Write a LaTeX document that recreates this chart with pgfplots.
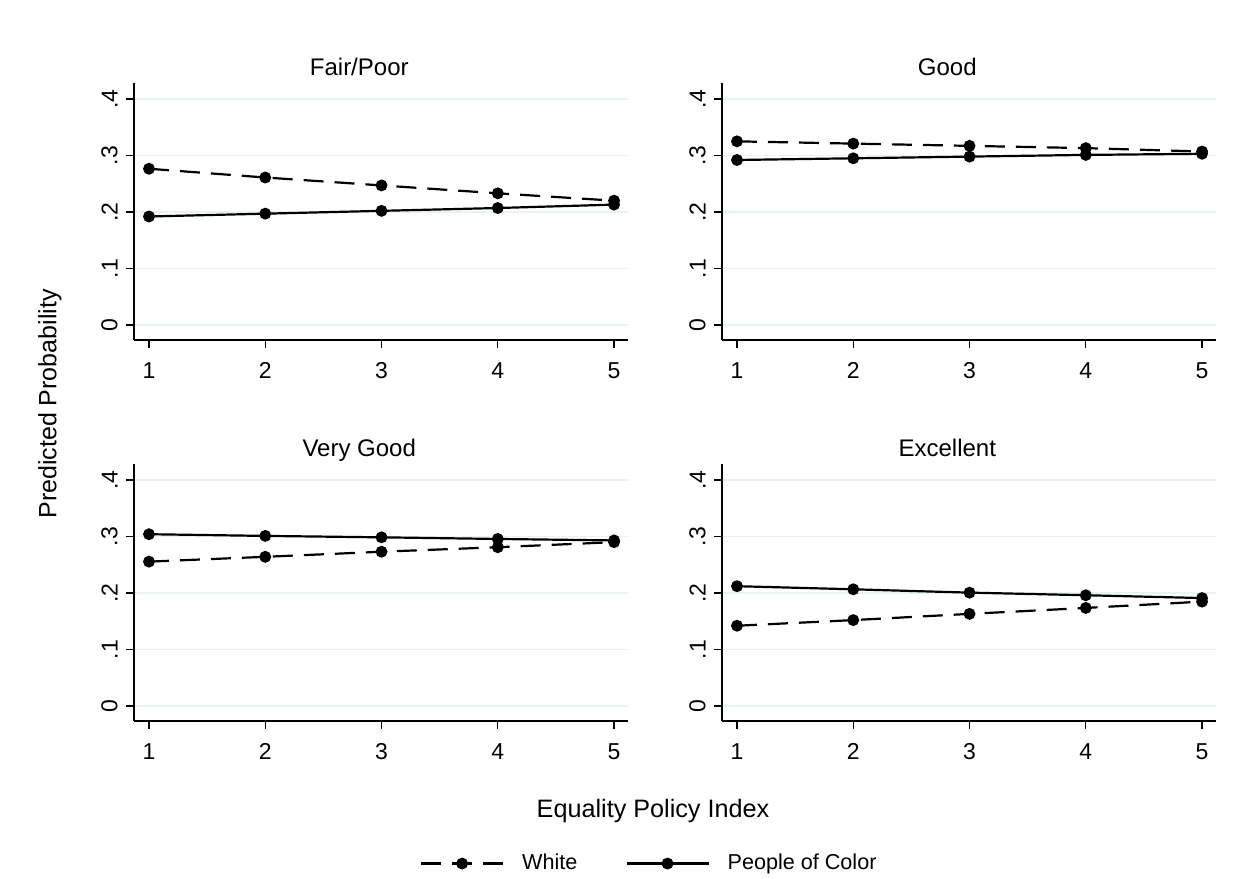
\documentclass[border=0pt]{standalone}
\usepackage{fontspec}
\setmainfont{Liberation Sans}
\usepackage{graphicx}
\usepackage{pgfplots}
\pgfplotsset{compat=1.18}
\definecolor{gridc}{RGB}{234,242,243}

\pgfplotsset{
 panel/.style={
  width=247pt, height=128.5pt, scale only axis,
  xmin=0.871, xmax=5.12, ymin=-0.0266, ymax=0.4283,
  axis x line*=bottom, axis y line*=left,
  axis line style={line width=0.7pt, -},
  xtick={1,2,3,4,5}, ytick={0,0.1,0.2,0.3,0.4},
  yticklabels={\rotatebox{90}{0},\rotatebox{90}{.1},\rotatebox{90}{.2},\rotatebox{90}{.3},\rotatebox{90}{.4}},
  tick align=outside, major tick length=4pt,
  tick style={line width=0.7pt, black},
  ymajorgrids, grid style={gridc, line width=0.9pt},
  /pgf/number format/assume math mode=true,
  xticklabel style={font=\fontsize{11.5}{13}\selectfont, inner sep=0pt, anchor=north, yshift=-7pt},
  yticklabel style={font=\fontsize{11.5}{13}\selectfont, anchor=east, inner sep=0pt, xshift=-4pt},
  every axis title shift=0pt,
  title style={font=\fontsize{12}{14}\selectfont, at={(axis description cs:0.456,1.03)}, anchor=base, inner sep=0pt},
  clip=false,
 },
 white/.style={black, line width=1.1pt, dash pattern=on 10pt off 5.5pt, mark=*, mark size=2.4pt, mark options={solid}},
 poc/.style={black, line width=1.1pt, solid, mark=*, mark size=2.4pt},
}

\begin{document}
\begin{tikzpicture}
\path[use as bounding box] (0,0) rectangle (616.5pt,439.5pt);

\begin{axis}[panel, at={(67pt,269.5pt)}, anchor=south west, title={Fair/Poor}]
\addplot[white] coordinates {(1,0.2765) (2,0.261) (3,0.247) (4,0.233) (5,0.220)};
\addplot[poc] coordinates {(1,0.192) (2,0.197) (3,0.202) (4,0.207) (5,0.213)};
\end{axis}

\begin{axis}[panel, at={(361pt,269.5pt)}, anchor=south west, title={Good}]
\addplot[white] coordinates {(1,0.325) (2,0.321) (3,0.317) (4,0.313) (5,0.307)};
\addplot[poc] coordinates {(1,0.292) (2,0.295) (3,0.298) (4,0.301) (5,0.303)};
\end{axis}

\begin{axis}[panel, at={(67pt,79pt)}, anchor=south west, title={Very Good},
  legend columns=2,
  legend style={at={(axis description cs:0.579,-0.5547)}, anchor=west, draw=none, fill=none,
    inner sep=0pt, outer sep=0pt, font=\fontsize{10.8}{12}\selectfont,
    nodes={inner sep=0pt},
    /tikz/every odd column/.append style={column sep=9pt},
    /tikz/every even column/.append style={column sep=24pt}},
  legend image code/.code={\draw[mark repeat=2,mark phase=2,#1] plot coordinates {(0pt,0pt) (20.5pt,0pt) (41pt,0pt)};}]
\addplot[white] coordinates {(1,0.2555) (2,0.264) (3,0.273) (4,0.281) (5,0.290)};
\addlegendentry{White}
\addplot[poc] coordinates {(1,0.304) (2,0.301) (3,0.2985) (4,0.2956) (5,0.293)};
\addlegendentry{People of Color}
\end{axis}

\begin{axis}[panel, at={(361pt,79pt)}, anchor=south west, title={Excellent}]
\addplot[white] coordinates {(1,0.142) (2,0.152) (3,0.163) (4,0.1735) (5,0.1847)};
\addplot[poc] coordinates {(1,0.212) (2,0.2065) (3,0.2006) (4,0.196) (5,0.191)};
\end{axis}

\node[rotate=90, font=\fontsize{12.5}{14}\selectfont, inner sep=0pt] at (25pt,237.5pt) {Predicted Probability};
\node[anchor=base, font=\fontsize{12.6}{14}\selectfont, inner sep=0pt] at (326.5pt,30.5pt) {Equality Policy Index};
\end{tikzpicture}
\end{document}
